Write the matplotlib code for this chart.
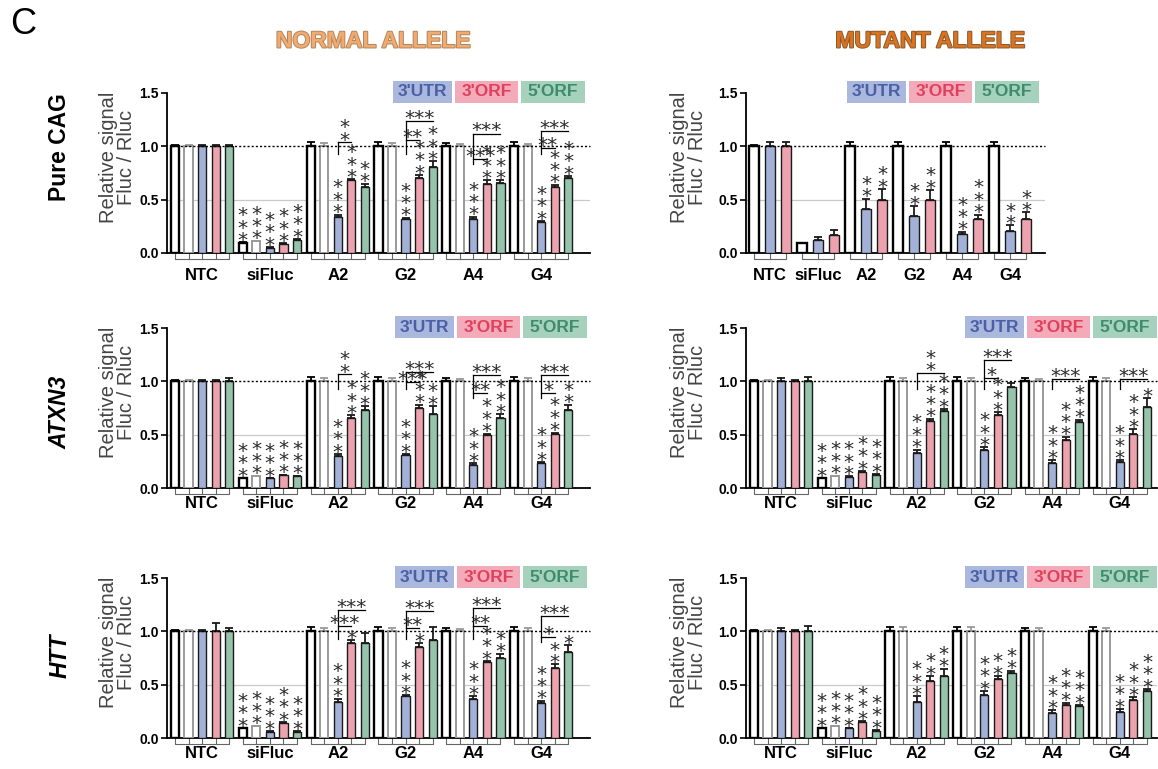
import matplotlib
matplotlib.use('Agg')
import matplotlib.pyplot as plt
from matplotlib.patches import Rectangle
import matplotlib.patheffects as pe
import matplotlib.transforms as mtransforms

plt.rcParams['font.family'] = ['Liberation Sans', 'DejaVu Sans']

W, H = 1158, 769

groups = ['NTC', 'siFluc', 'A2', 'G2', 'A4', 'G4']
legend_labels = ["3'UTR", "3'ORF", "5'ORF"]
row_labels = ['Pure CAG', 'ATXN3', 'HTT']
col_titles = ['NORMAL ALLELE', 'MUTANT ALLELE']
ytick_vals = [0.0, 0.5, 1.0, 1.5]
ytick_labels = ['0.0', '0.5', '1.0', '1.5']
ylabel_text = 'Relative signal\nFluc / Rluc'

# bar order inside a group: control (black), control (grey), 3'UTR, 3'ORF, 5'ORF
kinds5 = ['ctrl', 'ctrl2', 'utr3', 'orf3', 'orf5']
kinds3 = ['ctrl', 'utr3', 'orf3']

# ---------------- NORMAL ALLELE, Pure CAG ----------------
normal_cag_vals = [
    [1.00, 1.00, 1.00, 1.00, 1.00],
    [0.09, 0.11, 0.05, 0.08, 0.12],
    [1.00, 1.00, 0.34, 0.68, 0.62],
    [1.00, 1.00, 0.32, 0.70, 0.81],
    [1.00, 1.00, 0.32, 0.65, 0.66],
    [1.00, 1.00, 0.29, 0.62, 0.70],
]
normal_cag_errs = [
    [0.01, 0.01, 0.01, 0.01, 0.01],
    [0.01, 0.005, 0.005, 0.01, 0.01],
    [0.04, 0.03, 0.02, 0.01, 0.03],
    [0.04, 0.03, 0.01, 0.03, 0.05],
    [0.03, 0.02, 0.02, 0.03, 0.02],
    [0.04, 0.02, 0.01, 0.02, 0.02],
]
normal_cag_stars = [
    ['', '', '', '', ''],
    ['***', '***', '***', '***', '***'],
    ['', '', '***', '***', '**'],
    ['', '', '***', '***', '***'],
    ['', '', '***', '***', '***'],
    ['', '', '***', '***', '***'],
]
# (group, target bar, line height, label, vertical label)
normal_cag_brackets = [
    (2, 3, 1.04, '**', True),
    (3, 4, 1.24, '***', False), (3, 3, 1.06, '**', False),
    (4, 4, 1.12, '***', False), (4, 3, 0.88, '***', False),
    (5, 4, 1.14, '***', False), (5, 3, 0.98, '**', False),
]

# ---------------- MUTANT ALLELE, Pure CAG ----------------
mutant_cag_vals = [
    [1.00, 1.00, 1.00],
    [0.09, 0.12, 0.17],
    [1.00, 0.41, 0.50],
    [1.00, 0.35, 0.50],
    [1.00, 0.18, 0.32],
    [1.00, 0.21, 0.32],
]
mutant_cag_errs = [
    [0.01, 0.04, 0.04],
    [0.005, 0.03, 0.05],
    [0.04, 0.10, 0.10],
    [0.04, 0.09, 0.09],
    [0.04, 0.02, 0.04],
    [0.04, 0.05, 0.06],
]
mutant_cag_stars = [
    ['', '', ''],
    ['', '', ''],
    ['', '**', '**'],
    ['', '**', '**'],
    ['', '***', '***'],
    ['', '**', '**'],
]
mutant_cag_brackets = []

# ---------------- NORMAL ALLELE, ATXN3 ----------------
normal_atxn3_vals = [
    [1.00, 1.00, 1.00, 1.00, 1.00],
    [0.09, 0.11, 0.09, 0.12, 0.11],
    [1.00, 1.00, 0.30, 0.66, 0.73],
    [1.00, 1.00, 0.31, 0.75, 0.69],
    [1.00, 1.00, 0.22, 0.50, 0.66],
    [1.00, 1.00, 0.23, 0.51, 0.73],
]
normal_atxn3_errs = [
    [0.01, 0.01, 0.01, 0.01, 0.03],
    [0.005, 0.005, 0.005, 0.005, 0.005],
    [0.04, 0.03, 0.02, 0.02, 0.04],
    [0.04, 0.03, 0.01, 0.03, 0.08],
    [0.03, 0.02, 0.01, 0.01, 0.03],
    [0.04, 0.03, 0.01, 0.01, 0.05],
]
normal_atxn3_stars = [
    ['', '', '', '', ''],
    ['***', '***', '***', '***', '***'],
    ['', '', '***', '***', '***'],
    ['', '', '***', '***', '**'],
    ['', '', '***', '***', '***'],
    ['', '', '***', '***', '**'],
]
normal_atxn3_brackets = [
    (2, 3, 1.07, '**', True),
    (3, 4, 1.09, '***', False), (3, 3, 0.99, '***', False),
    (4, 4, 1.06, '***', False), (4, 3, 0.89, '**', False),
    (5, 4, 1.06, '***', False), (5, 3, 0.89, '*', False),
]

# ---------------- MUTANT ALLELE, ATXN3 ----------------
mutant_atxn3_vals = [
    [1.00, 1.00, 1.00, 1.00, 1.00],
    [0.09, 0.11, 0.10, 0.15, 0.12],
    [1.00, 1.00, 0.33, 0.63, 0.72],
    [1.00, 1.00, 0.36, 0.68, 0.95],
    [1.00, 1.00, 0.23, 0.45, 0.62],
    [1.00, 1.00, 0.24, 0.51, 0.76],
]
mutant_atxn3_errs = [
    [0.01, 0.01, 0.03, 0.01, 0.04],
    [0.005, 0.005, 0.01, 0.01, 0.01],
    [0.04, 0.03, 0.03, 0.02, 0.02],
    [0.04, 0.03, 0.02, 0.03, 0.03],
    [0.03, 0.02, 0.03, 0.03, 0.02],
    [0.04, 0.03, 0.02, 0.04, 0.08],
]
mutant_atxn3_stars = [
    ['', '', '', '', ''],
    ['***', '***', '***', '***', '***'],
    ['', '', '***', '***', '***'],
    ['', '', '***', '***', ''],
    ['', '', '***', '***', '***'],
    ['', '', '***', '***', '*'],
]
mutant_atxn3_brackets = [
    (2, 4, 1.08, '**', True),
    (3, 4, 1.20, '***', False), (3, 3, 1.03, '*', False),
    (4, 4, 1.02, '***', False),
    (5, 4, 1.02, '***', False),
]

# ---------------- NORMAL ALLELE, HTT ----------------
normal_htt_vals = [
    [1.00, 1.00, 1.00, 1.00, 1.00],
    [0.09, 0.11, 0.06, 0.14, 0.06],
    [1.00, 1.00, 0.34, 0.89, 0.89],
    [1.00, 1.00, 0.39, 0.85, 0.92],
    [1.00, 1.00, 0.37, 0.71, 0.75],
    [1.00, 1.00, 0.33, 0.66, 0.81],
]
normal_htt_errs = [
    [0.01, 0.01, 0.01, 0.08, 0.03],
    [0.005, 0.005, 0.005, 0.01, 0.005],
    [0.04, 0.03, 0.03, 0.03, 0.09],
    [0.04, 0.03, 0.01, 0.04, 0.12],
    [0.03, 0.02, 0.02, 0.01, 0.04],
    [0.04, 0.03, 0.02, 0.03, 0.06],
]
normal_htt_stars = [
    ['', '', '', '', ''],
    ['***', '***', '***', '***', '***'],
    ['', '', '***', '*', ''],
    ['', '', '***', '*', ''],
    ['', '', '***', '***', '**'],
    ['', '', '***', '**', '*'],
]
normal_htt_brackets = [
    (2, 4, 1.20, '***', False), (2, 3, 1.05, '***', False),
    (3, 4, 1.19, '***', False), (3, 3, 1.03, '**', False),
    (4, 4, 1.22, '***', False), (4, 3, 1.05, '**', False),
    (5, 4, 1.14, '***', False), (5, 3, 0.95, '*', False),
]

# ---------------- MUTANT ALLELE, HTT ----------------
mutant_htt_vals = [
    [1.00, 1.00, 1.00, 1.00, 1.00],
    [0.09, 0.11, 0.09, 0.15, 0.07],
    [1.00, 1.00, 0.34, 0.53, 0.58],
    [1.00, 1.00, 0.40, 0.55, 0.61],
    [1.00, 1.00, 0.23, 0.31, 0.30],
    [1.00, 1.00, 0.24, 0.36, 0.44],
]
mutant_htt_errs = [
    [0.01, 0.01, 0.03, 0.01, 0.05],
    [0.005, 0.005, 0.005, 0.005, 0.005],
    [0.04, 0.04, 0.05, 0.05, 0.07],
    [0.04, 0.04, 0.04, 0.03, 0.02],
    [0.03, 0.03, 0.03, 0.02, 0.01],
    [0.04, 0.03, 0.03, 0.02, 0.02],
]
mutant_htt_stars = [
    ['', '', '', '', ''],
    ['***', '***', '***', '***', '***'],
    ['', '', '***', '**', '**'],
    ['', '', '***', '**', '**'],
    ['', '', '***', '***', '***'],
    ['', '', '***', '***', '***'],
]
mutant_htt_brackets = []

# ---------------- styling ----------------
fill = {'ctrl': 'white', 'ctrl2': 'white', 'utr3': '#a3b1d6', 'orf3': '#eca3ae', 'orf5': '#95c4ab'}
edge = {'ctrl': 'black', 'ctrl2': '#9a9a9a', 'utr3': '#1a1a1a', 'orf3': '#1a1a1a', 'orf5': '#1a1a1a'}
lw = {'ctrl': 1.7, 'ctrl2': 1.4, 'utr3': 1.0, 'orf3': 1.0, 'orf5': 1.0}
box_bg = ['#a9b8dc', '#f3aab9', '#a6d2bd']
box_fg = ['#4a5fa5', '#e0405e', '#3e8c6c']
STAR_FONT = 'DejaVu Sans'
STAR_SIZE = 14.5
STAR_LS = 0.56
STAR_OFF = -5.5
HSTAR_OFF = -5.0
STAR_COLOR = '#2a2a2a'

fig = plt.figure(figsize=(W / 100, H / 100), dpi=100)


def px_axes(x0, x1, ytop, ybot):
    return fig.add_axes([x0 / W, 1 - ybot / H, (x1 - x0) / W, (ybot - ytop) / H])


def vstars(ax, x, y, s):
    ax.annotate('\n'.join(s), xy=(x, y), xytext=(0, STAR_OFF),
                textcoords='offset points', ha='center', va='bottom',
                fontsize=STAR_SIZE, family=STAR_FONT, linespacing=STAR_LS,
                color=STAR_COLOR, zorder=6, annotation_clip=False)


def draw_panel(ax, vals, errs, stars, brackets, kinds, xlim, ylabel_right_px, x0, x1,
               label_dy_px, legend_right_px, axis_top_px):
    n = len(kinds)
    ax.set_xlim(*xlim)
    ax.set_ylim(0, 1.5)
    ax.axhline(0.5, color='#c9c9c9', lw=0.9, zorder=0)
    ax.plot([xlim[0] + 0.4, xlim[1]], [1.0, 1.0], color='black', lw=1.0,
            ls=(0, (1.5, 1.5)), zorder=5, clip_on=False)
    trans = mtransforms.blended_transform_factory(ax.transData, ax.transAxes)
    for g, (gv, ge, gs) in enumerate(zip(vals, errs, stars)):
        xs = [g * n + i for i in range(n)]
        for i, x in enumerate(xs):
            k = kinds[i]
            ax.bar(x, gv[i], width=0.6, color=fill[k], edgecolor=edge[k],
                   linewidth=lw[k], zorder=3)
            ax.errorbar(x, gv[i], yerr=[[0], [ge[i]]], fmt='none', ecolor=edge[k],
                        elinewidth=1.3, capsize=3, capthick=1.3, zorder=4)
            if gs[i]:
                vstars(ax, x, gv[i] + ge[i], gs[i])
        # structure beneath the axis
        ax.plot([xs[0], xs[0], xs[-1], xs[-1]], [0, -0.04, -0.04, 0], color='#666666',
                lw=0.8, transform=trans, clip_on=False)
        for x in xs[1:-1]:
            ax.plot([x, x], [0, -0.04], color='#666666', lw=0.8, transform=trans,
                    clip_on=False)
        ax.annotate(groups[g], xy=((xs[0] + xs[-1]) / 2, 0), xytext=(0, -label_dy_px * 0.72),
                    textcoords='offset points', ha='center', va='center', fontsize=12,
                    fontweight='bold', annotation_clip=False)
    # significance brackets (from 3'UTR bar)
    by_group = {}
    for b in brackets:
        by_group.setdefault(b[0], []).append(b)
    for g, blist in by_group.items():
        xb = g * n + 2
        low = min(b[2] for b in blist)
        high = max(b[2] for b in blist)
        ax.plot([xb, xb], [min(0.93, low - 0.05), high], color='black', lw=0.9,
                zorder=5, clip_on=False)
        for (_, tgt, yl, lab, vert) in blist:
            xt = g * n + tgt
            ax.plot([xb, xt], [yl, yl], color='black', lw=0.9, zorder=5, clip_on=False)
            xm = (xb + xt) / 2
            if vert:
                vstars(ax, xm, yl, lab)
            else:
                ax.annotate(lab, xy=(xm, yl), xytext=(0, HSTAR_OFF),
                            textcoords='offset points', ha='center', va='bottom',
                            fontsize=STAR_SIZE, family=STAR_FONT, color=STAR_COLOR,
                            zorder=6, annotation_clip=False)
    # axes styling
    for s in ['top', 'right']:
        ax.spines[s].set_visible(False)
    ax.spines['left'].set_linewidth(1.3)
    ax.spines['bottom'].set_linewidth(1.3)
    ax.set_xticks([])
    ax.set_yticks(ytick_vals)
    ax.set_yticklabels(ytick_labels, fontweight='bold', fontsize=10)
    ax.tick_params(axis='y', direction='out', length=4, width=1.2, pad=2)
    ax.set_ylabel(ylabel_text, fontsize=14.5, color='#444444', linespacing=0.95)
    ax.yaxis.set_label_coords((ylabel_right_px - x0) / (x1 - x0), 0.6)
    # legend boxes
    widths = [59, 63, 64]
    right = legend_right_px
    xs_left = []
    for w in reversed(widths):
        xs_left.insert(0, right - w)
        right = right - w - 3
    for j in range(3):
        bx = xs_left[j]
        bw = widths[j]
        ytop = axis_top_px - 12
        ybot = axis_top_px + 10
        fig.patches.append(Rectangle((bx / W, 1 - ybot / H), bw / W, (ybot - ytop) / H,
                                     transform=fig.transFigure, facecolor=box_bg[j],
                                     edgecolor='none', zorder=1))
        fig.text((bx + bw / 2) / W, 1 - (ytop + ybot) / 2 / H, legend_labels[j],
                 ha='center', va='center', fontsize=12.5, fontweight='bold',
                 color=box_fg[j], zorder=2)


panels = [
    # vals, errs, stars, brackets, kinds, xlim, ylabel_right, x0, x1, ytop, ybot, label_dy, legend_right
    (normal_cag_vals, normal_cag_errs, normal_cag_stars, normal_cag_brackets, kinds5,
     (-0.59, 30.6), 136, 167, 590, 93, 253, 23, 585),
    (mutant_cag_vals, mutant_cag_errs, mutant_cag_stars, mutant_cag_brackets, kinds3,
     (-0.5, 18.19), 707, 746, 1045, 93, 253, 23, 1039),
    (normal_atxn3_vals, normal_atxn3_errs, normal_atxn3_stars, normal_atxn3_brackets, kinds5,
     (-0.59, 30.6), 136, 167, 590, 328, 488, 15, 587),
    (mutant_atxn3_vals, mutant_atxn3_errs, mutant_atxn3_stars, mutant_atxn3_brackets, kinds5,
     (-0.59, 29.74), 707, 746, 1157, 328, 488, 15, 1157),
    (normal_htt_vals, normal_htt_errs, normal_htt_stars, normal_htt_brackets, kinds5,
     (-0.59, 30.6), 136, 167, 590, 578, 738, 15, 587),
    (mutant_htt_vals, mutant_htt_errs, mutant_htt_stars, mutant_htt_brackets, kinds5,
     (-0.59, 29.74), 707, 746, 1157, 578, 738, 15, 1157),
]

for (v, e, s, b, k, xl, ylr, x0, x1, yt, yb, ldy, lr) in panels:
    ax = px_axes(x0, x1, yt, yb)
    draw_panel(ax, v, e, s, b, k, xl, ylr, x0, x1, ldy, lr, yt)

# column titles
fig.text(373 / W, 1 - 41 / H, col_titles[0], ha='center', va='center', fontsize=16.5,
         fontweight='bold', color='#f2aa6e',
         path_effects=[pe.withStroke(linewidth=1.4, foreground='#b08760')])
fig.text(930 / W, 1 - 41 / H, col_titles[1], ha='center', va='center', fontsize=16.5,
         fontweight='bold', color='#d9731f',
         path_effects=[pe.withStroke(linewidth=1.4, foreground='#8a5a30')])

# row labels
fig.text(60 / W, 1 - 147 / H, row_labels[0], rotation=90, ha='center', va='center',
         fontsize=16.5, fontweight='bold')
fig.text(60 / W, 1 - 412 / H, row_labels[1], rotation=90, ha='center', va='center',
         fontsize=16.5, fontweight='bold', style='italic')
fig.text(60 / W, 1 - 656 / H, row_labels[2], rotation=90, ha='center', va='center',
         fontsize=16.5, fontweight='bold', style='italic')

# panel letter
fig.text(23 / W, 1 - 25 / H, 'C', ha='center', va='center', fontsize=26)

fig.savefig('out.png', dpi=100, facecolor='white')
